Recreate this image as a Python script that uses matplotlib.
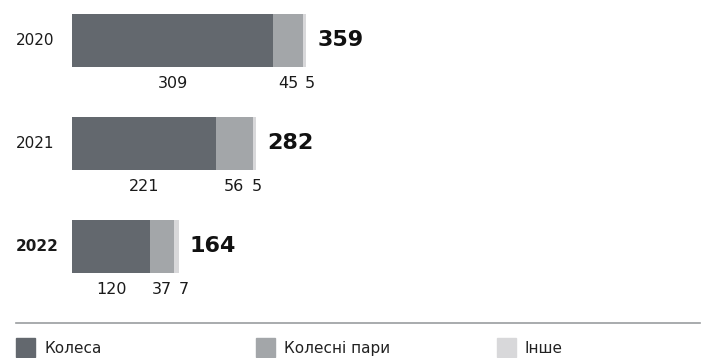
import matplotlib.pyplot as plt
from matplotlib.patches import Rectangle
import numpy as np

years = ['2020', '2021', '2022']
wheels = [309, 221, 120]
wheelsets = [45, 56, 37]
other = [5, 5, 7]
series_names = ['Колеса', 'Колесні пари', 'Інше']
colors = ['#63686e', '#a3a6a9', '#d8d8da']

plt.rcParams['font.family'] = ['DejaVu Sans']

W, H = 707, 358
fig = plt.figure(figsize=(W / 100, H / 100), dpi=100)
ax = fig.add_axes([0, 0, 1, 1])

# pixel-based scale so bars start at x=72 and rows are 103px apart
px_per_unit = 0.652
row_px = 103
top_px = 40.5
ax.set_xlim(-72 / px_per_unit, (W - 72) / px_per_unit)
ax.set_ylim((H - top_px) / row_px, -top_px / row_px)
ax.axis('off')

bar_h = 53 / row_px
series = [wheels, wheelsets, other]
y = np.arange(len(years))
left = np.zeros(len(years))
for vals, c in zip(series, colors):
    ax.barh(y, vals, left=left, height=bar_h, color=c, linewidth=0)
    left += np.array(vals)

min_sep = 22 / px_per_unit
for i, yr in enumerate(years):
    ax.text(-56 / px_per_unit, i, yr, ha='left', va='center', fontsize=11,
            fontweight='bold' if yr == '2022' else 'normal', color='#1a1a1a')
    total = sum(s[i] for s in series)
    ax.text(total + 11 / px_per_unit, i, str(total), ha='left', va='center',
            fontsize=16, fontweight='bold', color='#111111')
    # segment values under the bar, pushed right when they collide
    start = 0
    prev_x = -1e9
    for s in series:
        center = start + s[i] / 2
        x = max(center, prev_x + min_sep)
        ax.text(x, i + bar_h / 2 + 17 / row_px, str(s[i]), ha='center',
                va='center', fontsize=11.5, color='#1a1a1a')
        prev_x = x
        start += s[i]

# legend strip at the bottom
fig.add_artist(plt.Line2D([16 / W, 700 / W], [1 - 323 / H, 1 - 323 / H],
                          color='#9a9da0', lw=1.2))
legend_x = [16, 256, 497]
for lx, name, c in zip(legend_x, series_names, colors):
    fig.add_artist(Rectangle((lx / W, 1 - 357 / H), 19 / W, 19 / H, color=c,
                             transform=fig.transFigure))
    fig.text((lx + 28) / W, 1 - 348.5 / H, name, ha='left', va='center',
             fontsize=11, color='#222222')

fig.savefig('out.png', dpi=100)
